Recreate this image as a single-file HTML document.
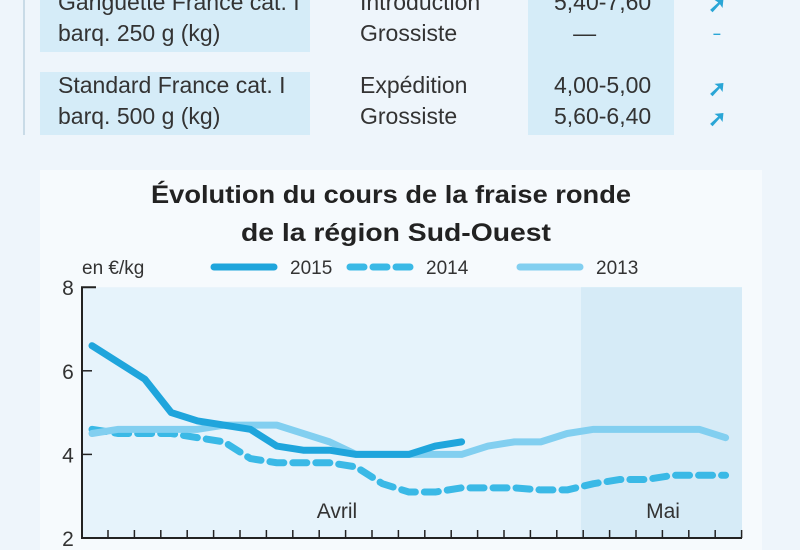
<!DOCTYPE html>
<html><head><meta charset="utf-8"><style>
body{margin:0;width:800px;height:550px;overflow:hidden;background:#eef5fb;font-family:"Liberation Sans",sans-serif;position:relative}
.t{position:absolute;font-family:"Liberation Sans Narrow","Liberation Sans",sans-serif;font-size:23px;color:#333;line-height:31px;transform:scaleX(1.0);transform-origin:left top;white-space:nowrap}
.ar{position:absolute;color:#2aa6d6;font-size:22px;font-weight:bold;line-height:22px}
</style></head><body>
<div style="position:absolute;left:23px;top:0;width:2px;height:135px;background:#c9dbe7"></div>
<div style="position:absolute;left:40px;top:0;width:270px;height:52px;background:#d5ecf8"></div>
<div style="position:absolute;left:528px;top:0;width:146px;height:135px;background:#d5ecf8"></div>
<div style="position:absolute;left:40px;top:72px;width:270px;height:63px;background:#d5ecf8"></div>
<div class="t" style="left:58px;top:-13px">Gariguette France cat. I<br>barq. 250 g (kg)</div>
<div class="t" style="left:360px;top:-13px">Introduction<br>Grossiste</div>
<div class="t" style="left:554px;top:-13px">5,40-7,60<br>&nbsp;&nbsp;&nbsp;—</div>
<div class="t" style="left:58px;top:70px">Standard France cat. I<br>barq. 500 g (kg)</div>
<div class="t" style="left:360px;top:70px">Expédition<br>Grossiste</div>
<div class="t" style="left:554px;top:70px">4,00-5,00<br>5,60-6,40</div>
<div class="ar" style="left:708px;top:-6px">➚</div>
<div class="ar" style="left:713px;top:22px;font-size:14px">–</div>
<div class="ar" style="left:708px;top:78px">➚</div>
<div class="ar" style="left:708px;top:108px">➚</div>
<div style="position:absolute;left:40px;top:170px;width:722px;height:380px;background:#f6fafd"></div>
<svg id="c" width="800" height="550" style="position:absolute;left:0;top:0">
<text x="391" y="203" text-anchor="middle" font-family="Liberation Sans" font-weight="bold" font-size="25" fill="#222" textLength="480" lengthAdjust="spacingAndGlyphs">Évolution du cours de la fraise ronde</text>
<text x="396" y="241" text-anchor="middle" font-family="Liberation Sans" font-weight="bold" font-size="25" fill="#222" textLength="310" lengthAdjust="spacingAndGlyphs">de la région Sud-Ouest</text>
</svg>
<script>
const yTicks=[2,4,6,8];
const months=["Avril","Mai"];
const s2015=[6.6,6.2,5.8,5.0,4.8,4.7,4.6,4.2,4.1,4.1,4.0,4.0,4.0,4.2,4.3];
const s2014=[4.6,4.5,4.5,4.5,4.4,4.3,3.9,3.8,3.8,3.8,3.7,3.3,3.1,3.1,3.2,3.2,3.2,3.15,3.15,3.3,3.4,3.4,3.5,3.5,3.5];
const s2013=[4.5,4.6,4.6,4.6,4.6,4.7,4.7,4.7,4.5,4.3,4.0,4.0,4.0,4.0,4.0,4.2,4.3,4.3,4.5,4.6,4.6,4.6,4.6,4.6,4.4];
const NS="http://www.w3.org/2000/svg",svg=document.getElementById('c');
const X=i=>92+26.4*i, Y=v=>538-(v-2)*41.8;
function mk(t,a){const e=document.createElementNS(NS,t);for(const k in a)e.setAttribute(k,a[k]);svg.appendChild(e);return e;}
let e;
e=mk('rect',{x:82,y:Y(8),width:660,height:Y(2)-Y(8),fill:'#e6f3fb'});


e=mk('rect',{x:581,y:Y(8),width:161,height:Y(2)-Y(8),fill:'#d6ebf7'});


e=mk('path',{d:`M96 ${Y(8)} H82 V${Y(2)} H742`,stroke:'#222',fill:'none','stroke-width':2});


for(let i=0;i<25;i++){e=mk('line',{x1:108+26.4*i,x2:108+26.4*i,y1:Y(2),y2:Y(2)-8,stroke:'#222','stroke-width':1.5});

}
yTicks.forEach(v=>{e=mk('text',{x:68,y:Y(v)+8,'text-anchor':'middle','font-size':21,fill:'#333','font-family':'Liberation Sans'});e.textContent=v;


if(v>2&&v<8){e=mk('line',{x1:82,x2:92,y1:Y(v),y2:Y(v),stroke:'#222','stroke-width':1.5});

}});
[[337,months[0]],[663,months[1]]].forEach(([x,t])=>{e=mk('text',{x:x,y:518,'text-anchor':'middle','font-size':21,fill:'#333','font-family':'Liberation Sans'});e.textContent=t;

});
function line(d,col,w,dash,name){const p=d.map((v,i)=>(i?'L':'M')+X(i)+' '+Y(v)).join(' ');
e=mk('path',{d:p,stroke:col,'stroke-width':w,fill:'none','stroke-linejoin':'round','stroke-linecap':'round','stroke-dasharray':dash||'none'});

}
line(s2014,'#3ab9e6',7,'14 9','series-2014');
line(s2013,'#82cff0',7,null,'series-2013');
line(s2015,'#1fa5dc',7,null,'series-2015');
e=mk('text',{x:82,y:274,'font-size':19,fill:'#333','font-family':'Liberation Sans'});e.textContent='en €/kg';


[[214,'#1fa5dc',null,'2015'],[350,'#3ab9e6','14 9','2014'],[520,'#82cff0',null,'2013']].forEach(([x,c,d,t])=>{
e=mk('line',{x1:x,x2:x+60,y1:267,y2:267,stroke:c,'stroke-width':7,'stroke-linecap':'round','stroke-dasharray':d||'none'});


e=mk('text',{x:x+76,y:274,'font-size':19,fill:'#333','font-family':'Liberation Sans'});e.textContent=t;

});
</script>
</body></html>
